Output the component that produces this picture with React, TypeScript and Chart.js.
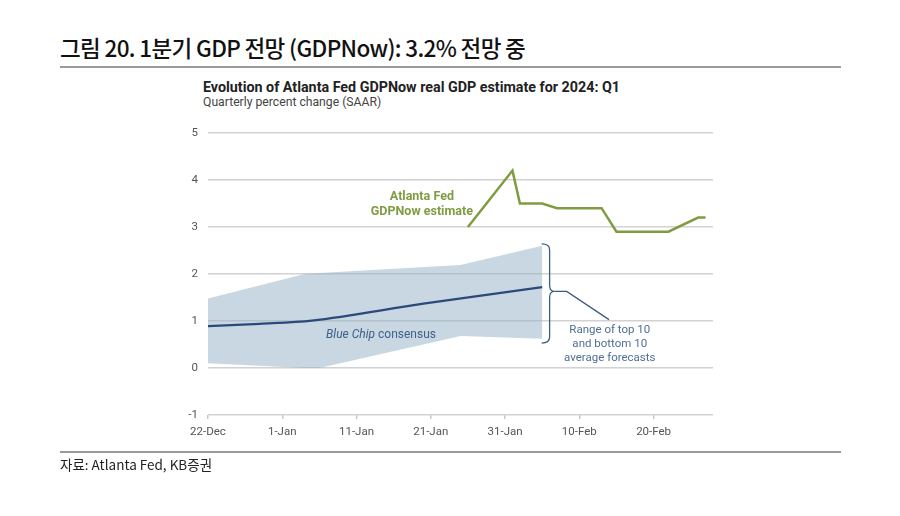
import React, { useEffect, useRef } from "react";
import { Chart, registerables } from "chart.js";

Chart.register(...registerables);

// ---- data ----
const baseDate = "2023-12-22";
const endDate = "2024-02-28";
const tickDates = ["2023-12-22", "2024-01-01", "2024-01-11", "2024-01-21", "2024-01-31", "2024-02-10", "2024-02-20"];
const tickLabels = ["22-Dec", "1-Jan", "11-Jan", "21-Jan", "31-Jan", "10-Feb", "20-Feb"];
const yTickValues = [-1, 0, 1, 2, 3, 4, 5];

const gdpNowDates = ["2024-01-26", "2024-02-01", "2024-02-02", "2024-02-05", "2024-02-07", "2024-02-13", "2024-02-15", "2024-02-22", "2024-02-26", "2024-02-27"];
const gdpNowValues = [3.0, 4.2, 3.5, 3.5, 3.4, 3.4, 2.9, 2.9, 3.2, 3.2];

const consensusDates = ["2023-12-22", "2023-12-29", "2024-01-05", "2024-01-20", "2024-02-05"];
const consensusValues = [0.89, 0.94, 1.01, 1.37, 1.72];

const bandDates = ["2023-12-22", "2024-01-04", "2024-01-06", "2024-01-25", "2024-02-05"];
const bandUpper = [1.48, 2.0, 2.02, 2.19, 2.6];
const bandLower = [0.1, 0.0, 0.0, 0.68, 0.62];

// ---- helpers ----
const DAY = 86400000;
const toDay = (d: string) => (Date.parse(d) - Date.parse(baseDate)) / DAY;
const pts = (dates: string[], vals: number[]) => dates.map((d, i) => ({ x: toDay(d), y: vals[i] }));

const GREEN = "#7f9c43";
const BLUE = "#2b4a7a";
const NOTE = "#4f6f95";

const annotations = {
  id: "annotations",
  afterDatasetsDraw(chart: any) {
    const { ctx, scales } = chart;
    const xs = scales.x;
    const ys = scales.y;
    const X = (d: number) => xs.getPixelForValue(d);
    const Y = (v: number) => ys.getPixelForValue(v);
    ctx.save();
    // GDPNow label
    ctx.fillStyle = GREEN;
    ctx.font = "bold 12.5px Roboto, 'Open Sans', sans-serif";
    ctx.textAlign = "center";
    ctx.textBaseline = "middle";
    ctx.fillText("Atlanta Fed", X(28.8), Y(3.65));
    ctx.fillText("GDPNow estimate", X(28.8), Y(3.33));

    // Blue Chip consensus label
    ctx.fillStyle = "#3f5f8b";
    ctx.textAlign = "left";
    ctx.font = "italic 12px Roboto, 'Open Sans', sans-serif";
    const x0 = X(15.9);
    const yL = Y(0.7);
    ctx.fillText("Blue Chip", x0, yL);
    const w = ctx.measureText("Blue Chip ").width;
    ctx.font = "12px Roboto, 'Open Sans', sans-serif";
    ctx.fillText("consensus", x0 + w, yL);

    // bracket
    const xv = X(46.0);
    const yT = Y(2.64);
    const yB = Y(0.53);
    const yM = Y(1.63);
    ctx.strokeStyle = "#3d5a80";
    ctx.lineWidth = 1.3;
    ctx.beginPath();
    ctx.moveTo(xv - 8, yT);
    ctx.quadraticCurveTo(xv, yT, xv, yT + 6);
    ctx.lineTo(xv, yM - 6);
    ctx.quadraticCurveTo(xv, yM, xv + 5, yM);
    ctx.quadraticCurveTo(xv, yM, xv, yM + 6);
    ctx.lineTo(xv, yB - 6);
    ctx.quadraticCurveTo(xv, yB, xv - 8, yB);
    ctx.stroke();
    ctx.beginPath();
    ctx.moveTo(xv + 5, yM);
    ctx.lineTo(X(48.3), yM);
    ctx.lineTo(X(54.0), Y(1.03));
    ctx.stroke();

    // range note
    ctx.fillStyle = NOTE;
    ctx.textAlign = "center";
    ctx.font = "11.5px Roboto, 'Open Sans', sans-serif";
    ctx.fillText("Range of top 10", X(54.1), Y(0.81));
    ctx.fillText("and bottom 10", X(54.1), Y(0.51));
    ctx.fillText("average forecasts", X(54.1), Y(0.21));
    ctx.restore();
  },
};

function ChartCanvas() {
  const ref = useRef<HTMLCanvasElement | null>(null);
  useEffect(() => {
    if (!ref.current) return;
    const chart = new Chart(ref.current, {
      type: "line",
      data: {
        datasets: [
          {
            label: "low",
            data: pts(bandDates, bandLower),
            borderWidth: 0,
            pointRadius: 0,
            fill: false,
            order: 10,
          },
          {
            label: "high",
            data: pts(bandDates, bandUpper),
            borderWidth: 0,
            pointRadius: 0,
            fill: "-1",
            backgroundColor: "rgba(150,178,198,0.52)",
            order: 9,
          },
          {
            label: "Blue Chip consensus",
            data: pts(consensusDates, consensusValues),
            borderColor: BLUE,
            borderWidth: 2.3,
            pointRadius: 0,
            cubicInterpolationMode: "monotone",
            fill: false,
            order: 1,
          },
          {
            label: "GDPNow",
            data: pts(gdpNowDates, gdpNowValues),
            borderColor: GREEN,
            borderWidth: 2.5,
            pointRadius: 0,
            tension: 0,
            fill: false,
            order: 0,
          },
        ],
      },
      options: {
        animation: false,
        responsive: false,
        maintainAspectRatio: false,
        layout: { padding: { left: 0, top: 133, right: 187, bottom: 71 } },
        plugins: { legend: { display: false }, tooltip: { enabled: false } },
        scales: {
          x: {
            type: "linear",
            min: 0,
            max: toDay(endDate),
            afterFit: (s: any) => { s.height = 30; },
            afterBuildTicks: (s: any) => { s.ticks = tickDates.map((d) => ({ value: toDay(d) })); },
            grid: { drawOnChartArea: false, drawTicks: true, tickLength: 4, color: "#c8c8c8", lineWidth: 1.5 },
            border: { display: false },
            ticks: {
              padding: 6,
              color: "#555",
              font: { family: "Roboto, 'Open Sans', sans-serif", size: 11.5 },
              callback: (v: any) => {
                const i = tickDates.findIndex((d) => toDay(d) === v);
                return i >= 0 ? tickLabels[i] : "";
              },
              maxRotation: 0,
            },
          },
          y: {
            min: -1,
            max: 5,
            afterFit: (s: any) => { s.width = 208; },
            afterBuildTicks: (s: any) => { s.ticks = yTickValues.map((v) => ({ value: v })); },
            grid: { drawTicks: false, color: "#d2d2d2", lineWidth: 1.5 },
            border: { display: false },
            ticks: {
              padding: 10,
              color: "#555",
              font: { family: "Roboto, 'Open Sans', sans-serif", size: 11.5 },
            },
          },
        },
      },
      plugins: [annotations],
    } as any);
    return () => chart.destroy();
  }, []);
  return <canvas ref={ref} width={900} height={516} style={{ position: "absolute", left: 0, top: 0, width: 900, height: 516 }} />;
}

export default function App() {
  useEffect(() => {
    document.body.style.margin = "0";
  }, []);
  return (
    <div style={{ position: "relative", width: 900, height: 516, background: "#fff", overflow: "hidden" }}>
      <div
        style={{
          position: "absolute",
          left: 60,
          top: 32,
          fontFamily: "'Noto Sans CJK KR', sans-serif",
          fontSize: 22.5,
          fontWeight: 500,
          letterSpacing: -0.65,
          color: "#111",
          lineHeight: "30px",
          whiteSpace: "nowrap",
        }}
      >
        그림 20. 1분기 GDP 전망 (GDPNow): 3.2% 전망 중
      </div>
      <div style={{ position: "absolute", left: 60, top: 66, width: 781, height: 2, background: "#9a9a9a" }} />
      <div
        style={{
          position: "absolute",
          left: 203,
          top: 78,
          fontFamily: "Roboto, 'Open Sans', sans-serif",
          fontSize: 14.3,
          fontWeight: 700,
          color: "#222",
          lineHeight: "18px",
          whiteSpace: "nowrap",
        }}
      >
        Evolution of Atlanta Fed GDPNow real GDP estimate for 2024: Q1
      </div>
      <div
        style={{
          position: "absolute",
          left: 203,
          top: 95,
          fontFamily: "Roboto, 'Open Sans', sans-serif",
          fontSize: 12.2,
          color: "#444",
          lineHeight: "15px",
          whiteSpace: "nowrap",
        }}
      >
        Quarterly percent change (SAAR)
      </div>
      <ChartCanvas />
      <div style={{ position: "absolute", left: 60, top: 451, width: 781, height: 2, background: "#9a9a9a" }} />
      <div
        style={{
          position: "absolute",
          left: 60,
          top: 455,
          fontFamily: "'Noto Sans CJK KR', sans-serif",
          fontSize: 13.5,
          color: "#222",
          lineHeight: "18px",
          whiteSpace: "nowrap",
        }}
      >
        자료: Atlanta Fed, KB증권
      </div>
    </div>
  );
}
